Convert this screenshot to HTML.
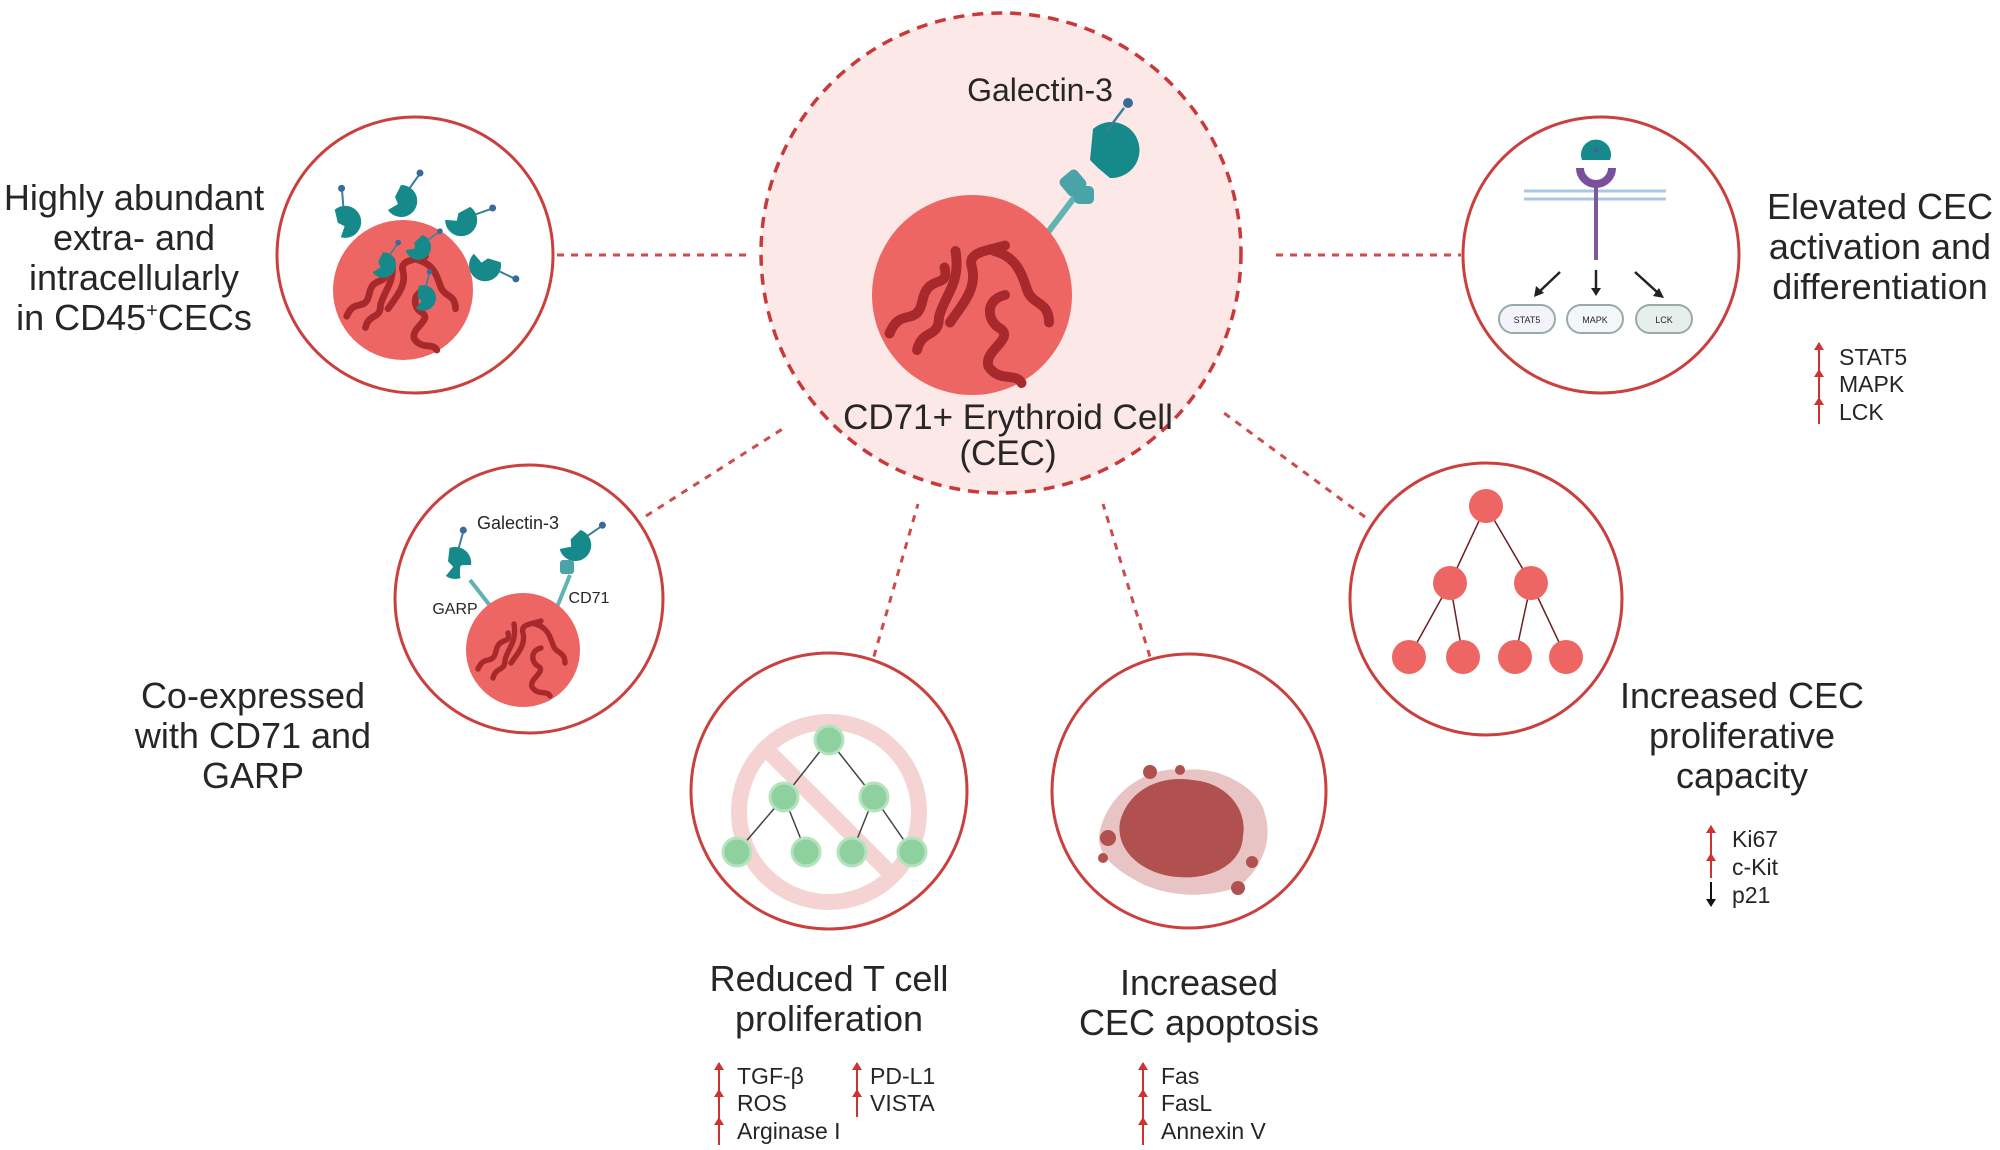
<!DOCTYPE html>
<html><head><meta charset="utf-8"><style>
html,body{margin:0;padding:0;background:#fff;width:2000px;height:1150px;overflow:hidden}
svg text{font-family:"Liberation Sans",sans-serif;fill:#262626}
</style></head><body>
<svg width="2000" height="1150" viewBox="0 0 2000 1150" xmlns="http://www.w3.org/2000/svg">
<defs>
<g id="gal"><path d="M0,-16 A16,16 0 1 1 -13,9 L-3,3 L-6,-4 Z" fill="#16898a"/><line x1="8" y1="-12" x2="18" y2="-26" stroke="#3b7f9a" stroke-width="2"/><circle cx="19" cy="-28" r="3.5" fill="#3a6a9a"/></g>
<g id="chrom" fill="none" stroke="#a8292c" stroke-width="9" stroke-linecap="round">
<path d="M-75,35 C-65,10 -50,30 -45,5 C-40,-20 -20,-5 -25,-25"/>
<path d="M-50,50 C-45,30 -30,40 -30,20 C-25,0 -10,-10 -15,-40"/>
<path d="M-20,25 C-10,10 5,-5 0,-25 C-5,-40 15,-40 30,-45"/>
<path d="M20,-40 C40,-35 45,-20 50,-5 C55,10 70,5 70,25"/>
<path d="M30,0 C10,5 15,25 25,30 C40,40 10,50 15,65 C25,80 40,70 45,80"/>
</g>
</defs>

<g stroke="#cf4a4a" stroke-width="3" stroke-dasharray="7,7" fill="none">
<line x1="557" y1="255" x2="746" y2="255"/>
<line x1="1276" y1="255" x2="1461" y2="255"/>
<line x1="646" y1="516" x2="784" y2="428"/>
<line x1="870" y1="670" x2="918" y2="504"/>
<line x1="1154" y1="670" x2="1103" y2="504"/>
<line x1="1365" y1="517" x2="1224" y2="413"/>
</g>

<circle cx="1001" cy="253" r="240" fill="#fce8e7" stroke="#c9393a" stroke-width="3.5" stroke-dasharray="11,8"/>
<line x1="1042" y1="240" x2="1080" y2="190" stroke="#5fb3b3" stroke-width="6"/>
<circle cx="972" cy="295" r="100" fill="#ee6663"/>
<use href="#chrom" transform="translate(972,295) scale(1.1)"/>
<rect x="1062" y="172" width="22" height="22" rx="5" fill="#4aa3a6" transform="rotate(-40 1073 183)"/>
<rect x="1074" y="186" width="20" height="18" rx="5" fill="#4aa3a6"/>
<path d="M1093,129 A28,28 0 1 1 1110,178 L1098,168 L1090,160 Z" fill="#16898a"/>
<line x1="1106" y1="132" x2="1124" y2="108" stroke="#3b7f9a" stroke-width="2.5"/>
<circle cx="1128" cy="103" r="5" fill="#3a6a9a"/>
<text x="1040" y="101" font-size="32" text-anchor="middle">Galectin-3</text>
<text x="1008" y="429" font-size="35" text-anchor="middle">CD71+ Erythroid Cell</text>
<text x="1008" y="465" font-size="35" text-anchor="middle">(CEC)</text>

<g fill="#fff" stroke="#c9403f" stroke-width="3">
<circle cx="415" cy="255" r="138"/>
<circle cx="1601" cy="255" r="138"/>
<circle cx="529" cy="599" r="134"/>
<circle cx="1486" cy="599" r="136"/>
<circle cx="829" cy="791" r="138"/>
<circle cx="1189" cy="791" r="137"/>
</g>

<circle cx="403" cy="290" r="70" fill="#ee6663"/>
<use href="#chrom" transform="translate(403,290) scale(0.75)"/>
<use href="#gal" transform="translate(345,222) rotate(-40)"/>
<use href="#gal" transform="translate(401,201)"/>
<use href="#gal" transform="translate(461,220) rotate(35)"/>
<use href="#gal" transform="translate(485,265) rotate(80)"/>
<use href="#gal" transform="translate(383,265) rotate(0) scale(0.8)"/>
<use href="#gal" transform="translate(418,247) rotate(20) scale(0.8)"/>
<use href="#gal" transform="translate(423,298) rotate(-20) scale(0.8)"/>

<line x1="470" y1="580" x2="495" y2="612" stroke="#5fb3b3" stroke-width="4"/>
<line x1="570" y1="575" x2="555" y2="612" stroke="#5fb3b3" stroke-width="4"/>
<circle cx="523" cy="650" r="57" fill="#ee6663"/>
<use href="#chrom" transform="translate(523,648) scale(0.6)"/>
<use href="#gal" transform="translate(455,563) rotate(-20)"/>
<use href="#gal" transform="translate(575,545) rotate(20)"/>
<rect x="460" y="565" width="14" height="14" rx="3" fill="#fff"/>
<rect x="560" y="560" width="14" height="14" rx="3" fill="#4aa3a6"/>
<text x="518" y="529" font-size="18" text-anchor="middle">Galectin-3</text>
<text x="455" y="614" font-size="16" text-anchor="middle">GARP</text>
<text x="589" y="603" font-size="16" text-anchor="middle">CD71</text>

<line x1="1524" y1="191" x2="1666" y2="191" stroke="#a9c8e8" stroke-width="3"/>
<line x1="1524" y1="199" x2="1666" y2="199" stroke="#a9c8e8" stroke-width="3"/>
<line x1="1596" y1="185" x2="1596" y2="260" stroke="#7a5a9a" stroke-width="4"/>
<path d="M1580,168 A16,16 0 0 0 1612,168" fill="none" stroke="#7a4f9c" stroke-width="8"/>
<path d="M1582,160 A15,15 0 1 1 1610,160 Z" fill="#16898a"/>
<line x1="1596" y1="147" x2="1596" y2="152" stroke="#3b7f9a" stroke-width="2"/>
<circle cx="1596" cy="150" r="3" fill="#3a6a9a"/>
<g stroke="#222" stroke-width="2.5">
<line x1="1560" y1="272" x2="1540" y2="291"/><line x1="1596" y1="270" x2="1596" y2="290"/><line x1="1635" y1="272" x2="1657" y2="292"/>
</g>
<g fill="#222"><path d="M1534,297 l2,-11 l8,7z"/><path d="M1591,288 h10 l-5,8z"/><path d="M1664,298 l-11,-2 l6,-8z"/></g>
<g stroke="#9aa" stroke-width="2"><rect x="1499" y="305" width="56" height="28" rx="14" fill="#f4f2fa"/><rect x="1567" y="305" width="56" height="28" rx="14" fill="#f2f7fa"/><rect x="1636" y="305" width="56" height="28" rx="14" fill="#e6efec"/></g>
<g font-size="9" text-anchor="middle"><text x="1527" y="323">STAT5</text><text x="1595" y="323">MAPK</text><text x="1664" y="323">LCK</text></g>

<g stroke="#6b2020" stroke-width="1.5">
<line x1="1486" y1="506" x2="1450" y2="583"/><line x1="1486" y1="506" x2="1531" y2="583"/>
<line x1="1450" y1="583" x2="1409" y2="657"/><line x1="1450" y1="583" x2="1463" y2="657"/>
<line x1="1531" y1="583" x2="1515" y2="657"/><line x1="1531" y1="583" x2="1566" y2="657"/>
</g>
<g fill="#ee6663"><circle cx="1486" cy="506" r="17"/><circle cx="1450" cy="583" r="17"/><circle cx="1531" cy="583" r="17"/><circle cx="1409" cy="657" r="17"/><circle cx="1463" cy="657" r="17"/><circle cx="1515" cy="657" r="17"/><circle cx="1566" cy="657" r="17"/></g>

<circle cx="829" cy="812" r="90" fill="none" stroke="#f5d3d3" stroke-width="16"/>
<line x1="766" y1="749" x2="892" y2="875" stroke="#f5d3d3" stroke-width="16"/>
<g stroke="#444" stroke-width="1.5">
<line x1="829" y1="740" x2="784" y2="797"/><line x1="829" y1="740" x2="874" y2="797"/>
<line x1="784" y1="797" x2="737" y2="852"/><line x1="784" y1="797" x2="806" y2="852"/>
<line x1="874" y1="797" x2="852" y2="852"/><line x1="874" y1="797" x2="912" y2="852"/>
</g>
<g fill="#8fd19e" stroke="#b5e3bf" stroke-width="3"><circle cx="829" cy="740" r="14"/><circle cx="784" cy="797" r="14"/><circle cx="874" cy="797" r="14"/><circle cx="737" cy="852" r="14"/><circle cx="806" cy="852" r="14"/><circle cx="852" cy="852" r="14"/><circle cx="912" cy="852" r="14"/></g>

<path d="M1100,830 C1110,790 1150,765 1185,770 C1220,765 1262,790 1265,815 C1275,845 1255,878 1235,888 C1200,900 1160,895 1135,880 C1108,865 1095,850 1100,830Z" fill="#e9c4c4"/>
<path d="M1120,822 C1128,790 1160,775 1192,780 C1225,782 1248,808 1243,836 C1242,865 1210,880 1178,877 C1145,875 1115,852 1120,822Z" fill="#b0514f"/>
<g fill="#b0514f"><circle cx="1108" cy="838" r="8"/><circle cx="1150" cy="772" r="7"/><circle cx="1252" cy="862" r="6"/><circle cx="1238" cy="888" r="7"/><circle cx="1103" cy="858" r="5"/><circle cx="1180" cy="770" r="5"/></g>

<g font-size="36" text-anchor="middle">
<text x="134" y="210">Highly abundant</text><text x="134" y="250">extra- and</text><text x="134" y="290">intracellularly</text><text x="134" y="330">in CD45<tspan font-size="20" dy="-13">+</tspan><tspan dy="13">CECs</tspan></text>
<text x="1880" y="219">Elevated CEC</text><text x="1880" y="259">activation and</text><text x="1880" y="299">differentiation</text>
<text x="253" y="708">Co-expressed</text><text x="253" y="748">with CD71 and</text><text x="253" y="788">GARP</text>
<text x="1742" y="708">Increased CEC</text><text x="1742" y="748">proliferative</text><text x="1742" y="788">capacity</text>
<text x="829" y="991">Reduced T cell</text><text x="829" y="1031">proliferation</text>
<text x="1199" y="995">Increased</text><text x="1199" y="1035">CEC apoptosis</text>
</g>
<g font-size="23">
<text x="1839" y="365">STAT5</text><text x="1839" y="392">MAPK</text><text x="1839" y="420">LCK</text>
<text x="1732" y="847">Ki67</text><text x="1732" y="875">c-Kit</text><text x="1732" y="903">p21</text>
<text x="737" y="1084">TGF-β</text><text x="737" y="1111">ROS</text><text x="737" y="1139">Arginase I</text>
<text x="870" y="1084">PD-L1</text><text x="870" y="1111">VISTA</text>
<text x="1161" y="1084">Fas</text><text x="1161" y="1111">FasL</text><text x="1161" y="1139">Annexin V</text>
</g>
<g stroke="#c33" stroke-width="2" fill="#c33">
<line x1="1819" y1="343" x2="1819" y2="424"/>
<line x1="1711" y1="826" x2="1711" y2="878"/>
<line x1="719" y1="1063" x2="719" y2="1145"/>
<line x1="857" y1="1063" x2="857" y2="1117"/>
<line x1="1143" y1="1063" x2="1143" y2="1145"/>
</g>
<g fill="#c33">
<path d="M1814,350 l5,-8 l5,8z"/><path d="M1814,377 l5,-8 l5,8z"/><path d="M1814,405 l5,-8 l5,8z"/>
<path d="M1706,833 l5,-8 l5,8z"/><path d="M1706,861 l5,-8 l5,8z"/>
<path d="M714,1070 l5,-8 l5,8z"/><path d="M714,1097 l5,-8 l5,8z"/><path d="M714,1125 l5,-8 l5,8z"/>
<path d="M852,1070 l5,-8 l5,8z"/><path d="M852,1097 l5,-8 l5,8z"/>
<path d="M1138,1070 l5,-8 l5,8z"/><path d="M1138,1097 l5,-8 l5,8z"/><path d="M1138,1125 l5,-8 l5,8z"/>
</g>
<line x1="1711" y1="882" x2="1711" y2="902" stroke="#111" stroke-width="2"/>
<path d="M1706,899 l5,8 l5,-8z" fill="#111"/>
</svg>
</body></html>
